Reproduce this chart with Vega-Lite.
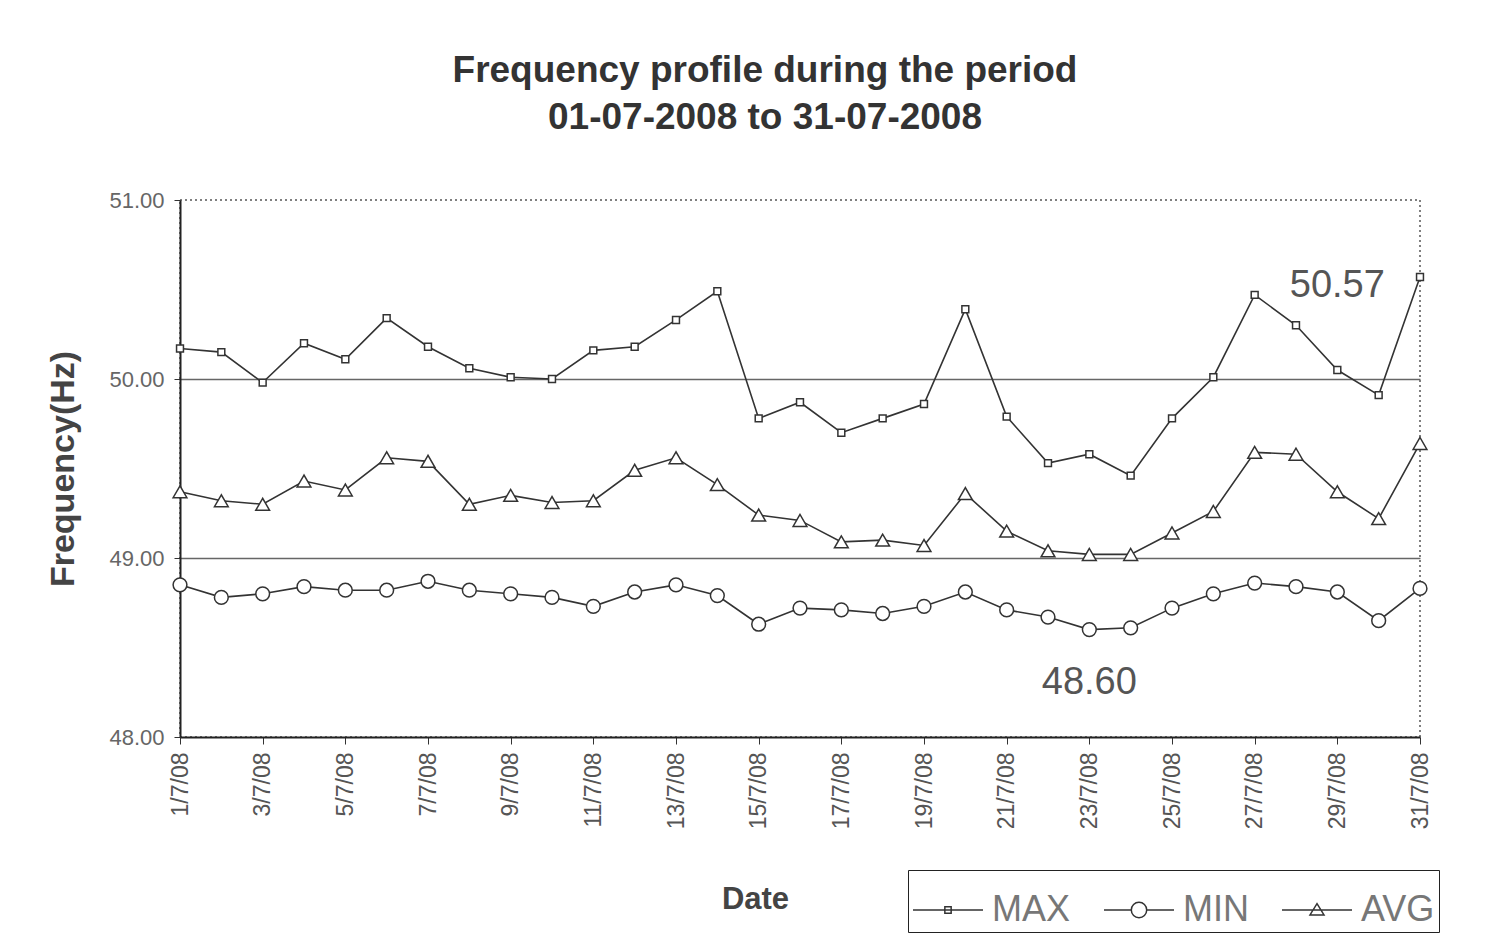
{
  "$schema": "https://vega.github.io/schema/vega-lite/v6.json",
  "autosize": {"type": "none"},
  "width": 1240,
  "height": 537,
  "padding": {"left": 180, "top": 200, "right": 68, "bottom": 206},
  "background": "white",
  "config": {
    "font": "Liberation Sans",
    "view": {"stroke": "#555", "strokeDash": [2, 3], "strokeWidth": 1.5}
  },
  "title": {
    "text": ["Frequency profile during the period", "01-07-2008 to 31-07-2008"],
    "fontSize": 37,
    "fontWeight": "bold",
    "color": "#333",
    "lineHeight": 47,
    "anchor": "middle",
    "dx": -35,
    "offset": 52
  },
  "resolve": {"scale": {"shape": "independent"}},
  "datasets": {
    "freq": [
      {"day":1,"series":"MAX","value":50.17},{"day":2,"series":"MAX","value":50.15},{"day":3,"series":"MAX","value":49.98},{"day":4,"series":"MAX","value":50.20},{"day":5,"series":"MAX","value":50.11},{"day":6,"series":"MAX","value":50.34},{"day":7,"series":"MAX","value":50.18},{"day":8,"series":"MAX","value":50.06},{"day":9,"series":"MAX","value":50.01},{"day":10,"series":"MAX","value":50.00},{"day":11,"series":"MAX","value":50.16},{"day":12,"series":"MAX","value":50.18},{"day":13,"series":"MAX","value":50.33},{"day":14,"series":"MAX","value":50.49},{"day":15,"series":"MAX","value":49.78},{"day":16,"series":"MAX","value":49.87},{"day":17,"series":"MAX","value":49.70},{"day":18,"series":"MAX","value":49.78},{"day":19,"series":"MAX","value":49.86},{"day":20,"series":"MAX","value":50.39},{"day":21,"series":"MAX","value":49.79},{"day":22,"series":"MAX","value":49.53},{"day":23,"series":"MAX","value":49.58},{"day":24,"series":"MAX","value":49.46},{"day":25,"series":"MAX","value":49.78},{"day":26,"series":"MAX","value":50.01},{"day":27,"series":"MAX","value":50.47},{"day":28,"series":"MAX","value":50.30},{"day":29,"series":"MAX","value":50.05},{"day":30,"series":"MAX","value":49.91},{"day":31,"series":"MAX","value":50.57},
      {"day":1,"series":"MIN","value":48.85},{"day":2,"series":"MIN","value":48.78},{"day":3,"series":"MIN","value":48.80},{"day":4,"series":"MIN","value":48.84},{"day":5,"series":"MIN","value":48.82},{"day":6,"series":"MIN","value":48.82},{"day":7,"series":"MIN","value":48.87},{"day":8,"series":"MIN","value":48.82},{"day":9,"series":"MIN","value":48.80},{"day":10,"series":"MIN","value":48.78},{"day":11,"series":"MIN","value":48.73},{"day":12,"series":"MIN","value":48.81},{"day":13,"series":"MIN","value":48.85},{"day":14,"series":"MIN","value":48.79},{"day":15,"series":"MIN","value":48.63},{"day":16,"series":"MIN","value":48.72},{"day":17,"series":"MIN","value":48.71},{"day":18,"series":"MIN","value":48.69},{"day":19,"series":"MIN","value":48.73},{"day":20,"series":"MIN","value":48.81},{"day":21,"series":"MIN","value":48.71},{"day":22,"series":"MIN","value":48.67},{"day":23,"series":"MIN","value":48.60},{"day":24,"series":"MIN","value":48.61},{"day":25,"series":"MIN","value":48.72},{"day":26,"series":"MIN","value":48.80},{"day":27,"series":"MIN","value":48.86},{"day":28,"series":"MIN","value":48.84},{"day":29,"series":"MIN","value":48.81},{"day":30,"series":"MIN","value":48.65},{"day":31,"series":"MIN","value":48.83},
      {"day":1,"series":"AVG","value":49.37},{"day":2,"series":"AVG","value":49.32},{"day":3,"series":"AVG","value":49.30},{"day":4,"series":"AVG","value":49.43},{"day":5,"series":"AVG","value":49.38},{"day":6,"series":"AVG","value":49.56},{"day":7,"series":"AVG","value":49.54},{"day":8,"series":"AVG","value":49.30},{"day":9,"series":"AVG","value":49.35},{"day":10,"series":"AVG","value":49.31},{"day":11,"series":"AVG","value":49.32},{"day":12,"series":"AVG","value":49.49},{"day":13,"series":"AVG","value":49.56},{"day":14,"series":"AVG","value":49.41},{"day":15,"series":"AVG","value":49.24},{"day":16,"series":"AVG","value":49.21},{"day":17,"series":"AVG","value":49.09},{"day":18,"series":"AVG","value":49.10},{"day":19,"series":"AVG","value":49.07},{"day":20,"series":"AVG","value":49.36},{"day":21,"series":"AVG","value":49.15},{"day":22,"series":"AVG","value":49.04},{"day":23,"series":"AVG","value":49.02},{"day":24,"series":"AVG","value":49.02},{"day":25,"series":"AVG","value":49.14},{"day":26,"series":"AVG","value":49.26},{"day":27,"series":"AVG","value":49.59},{"day":28,"series":"AVG","value":49.58},{"day":29,"series":"AVG","value":49.37},{"day":30,"series":"AVG","value":49.22},{"day":31,"series":"AVG","value":49.64}
    ],
    "notes": [
      {"day": 29, "value": 50.52, "label": "50.57"},
      {"day": 23, "value": 48.30, "label": "48.60"}
    ]
  },
  "encoding": {
    "x": {
      "field": "day",
      "type": "quantitative",
      "scale": {"domain": [1, 31], "nice": false, "zero": false},
      "axis": {
        "title": "Date",
        "values": [1,3,5,7,9,11,13,15,17,19,21,23,25,27,29,31],
        "labelExpr": "datum.value + '/7/08'",
        "labelAngle": -90,
        "labelFontSize": 23,
        "labelColor": "#555",
        "labelPadding": 8,
        "tickSize": 7,
        "tickColor": "#333",
        "domainColor": "#222",
        "domainWidth": 2,
        "grid": false,
        "titleFontSize": 31,
        "titleFontWeight": "bold",
        "titleColor": "#444",
        "titleX": 575,
        "titlePadding": 56
      }
    },
    "y": {
      "field": "value",
      "type": "quantitative",
      "scale": {"domain": [48, 51], "nice": false, "zero": false},
      "axis": {
        "title": "Frequency(Hz)",
        "values": [48, 49, 50, 51],
        "format": ".2f",
        "labelFontSize": 22,
        "labelColor": "#666",
        "labelPadding": 10,
        "tickSize": 6,
        "tickColor": "#333",
        "domainColor": "#222",
        "domainWidth": 2,
        "grid": true,
        "gridColor": "#666",
        "gridWidth": 1.5,
        "gridOpacity": {"condition": {"test": "datum.value === 51 || datum.value === 48", "value": 0}, "value": 1},
        "titleFontSize": 34,
        "titleFontWeight": "bold",
        "titleColor": "#444",
        "titlePadding": 28
      }
    }
  },
  "layer": [
    {
      "data": {"name": "freq"},
      "mark": {"type": "line", "color": "#333", "strokeWidth": 1.6},
      "encoding": {"detail": {"field": "series"}}
    },
    {
      "data": {"name": "freq"},
      "mark": {"type": "point", "filled": true, "fill": "white", "stroke": "#333", "strokeWidth": 1.5, "opacity": 1, "size": 190},
      "encoding": {
        "shape": {
          "field": "series",
          "type": "nominal",
          "scale": {"domain": ["MAX", "MIN", "AVG"], "range": ["M-0.5,-0.5H0.5V0.5H-0.5Z", "circle", "triangle-up"]},
          "legend": null
        }
      }
    },
    {
      "data": {"name": "freq"},
      "mark": {"type": "point", "filled": false, "stroke": "#333", "strokeWidth": 1.5, "opacity": 0, "size": 10},
      "encoding": {
        "shape": {
          "field": "series",
          "type": "nominal",
          "scale": {
            "domain": ["MAX", "MIN", "AVG"],
            "range": [
              "M-1,0H1M-0.09,-0.09H0.09V0.09H-0.09Z",
              "M-1,0H-0.22M0.22,0H1M0.22,0A0.22,0.22,0,1,1,-0.22,0A0.22,0.22,0,1,1,0.22,0Z",
              "M-1,0H1M0,-0.18L0.2,0.14H-0.2Z"
            ]
          },
          "legend": {
            "title": null,
            "orient": "none",
            "legendX": 728,
            "legendY": 670,
            "direction": "horizontal",
            "columns": 3,
            "strokeColor": "#222",
            "padding": 4,
            "symbolSize": 4900,
            "symbolOpacity": 1,
            "symbolStrokeColor": "#333",
            "symbolFillColor": "transparent",
            "symbolStrokeWidth": 1.5,
            "labelFontSize": 36,
            "labelColor": "#777",
            "labelOffset": 8,
            "columnPadding": 30
          }
        }
      }
    },
    {
      "data": {"name": "notes"},
      "mark": {"type": "text", "fontSize": 38, "color": "#555", "align": "center", "baseline": "middle"},
      "encoding": {"text": {"field": "label"}}
    }
  ]
}
